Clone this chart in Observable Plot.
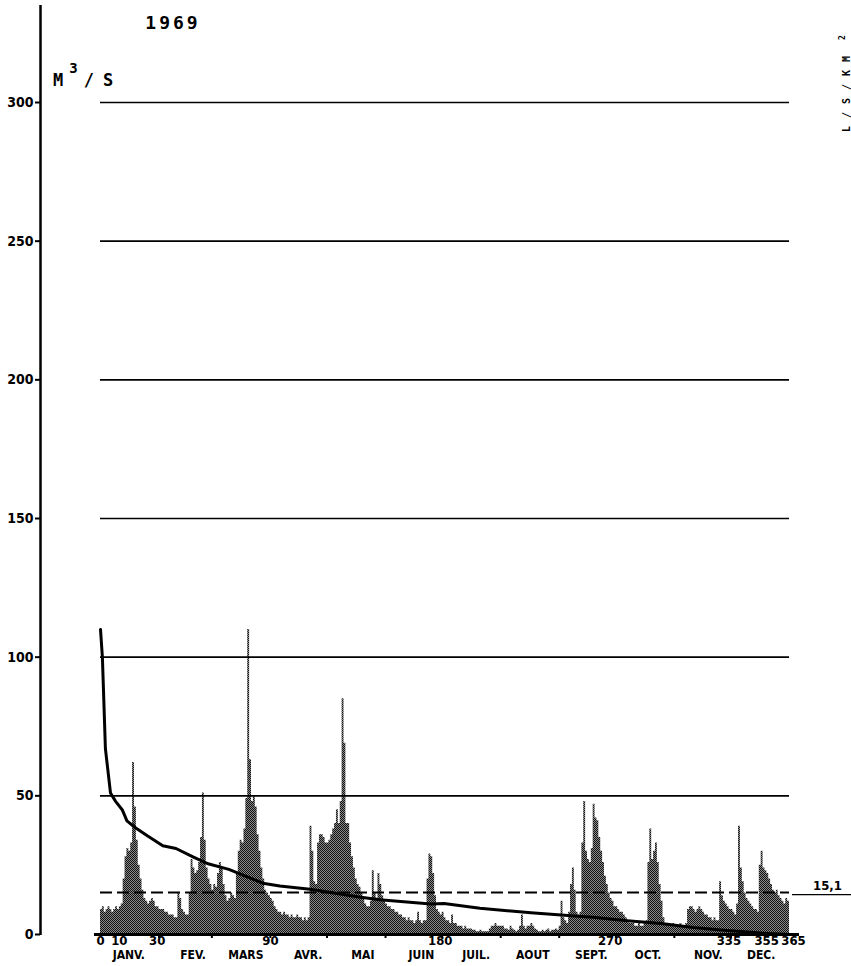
<!DOCTYPE html>
<html><head><meta charset="utf-8">
<script src="https://cdn.jsdelivr.net/npm/d3@7"></script>
<script src="https://cdn.jsdelivr.net/npm/@observablehq/plot@0.6"></script>
<style>body{margin:0;background:#fff} svg{display:block}</style>
</head><body><div id="chart"></div>
<script>
const year = "1969";
const jan = [9,10,8,9,10,9,8,9,10,9, 10,11,20,28,31,30,33,62,46,34, 25,20,16,13,12,11,12,13,12,10, 10];
const feb = [9,9,9,8,8,7,7,7,6,6, 15,13,9,8,7,7,15,27,24,22, 23,26,35,51,34,24,20,18];
const mar = [16,18,17,22,26,24,18,14,12,13, 15,14,13,22,30,34,33,38,49,110, 63,48,50,46,36,30,24,20,16,15, 14];
const apr = [13,12,10,9,8,8,7,8,7,7, 6,7,6,6,7,6,6,5,6,5, 6,39,30,19,18,33,36,36,35,33];
const may = [33,34,36,38,40,45,40,48,85,69, 40,40,33,28,24,20,18,17,15,13, 11,10,10,12,23,15,13,22,18,14, 12];
const jun = [11,10,10,9,9,8,8,7,7,6, 6,5,6,5,5,4,5,8,5,4, 5,5,20,29,28,22,14,9,8,7];
const jul = [8,6,5,5,4,7,4,4,3,3, 3,2,3,2,2,2,1.5,1.5,1,1, 1.5,1,1,1,1,2,3,3,4,3, 3];
const aug = [3,3,2,2,1.5,3,2,1.5,1,1.5, 3,7,3,2,3,3,4,3,2,1.5, 1,1,1.5,1,1.5,2,1,1.5,1.5,2, 1.5];
const sep = [3,12,6,5,4,8,18,24,16,8, 7,8,33,48,30,27,26,31,47,42, 41,35,30,26,21,18,15,13,12,10];
const oct = [10,9,8,8,7,6,5,4,4,4, 3,3,4,3,3,4,5,26,38,27, 30,33,26,18,12,6,4,4,3,3, 4];
const nov = [3,3,3,4,3,3,4,9,10,10, 9,8,9,10,9,8,7,7,6,6, 5,6,5,5,19,14,12,11,10,9];
const dec = [9,8,7,11,39,24,19,15,13,12, 11,10,9,9,8,25,30,24,23,22, 20,18,16,15,16,14,13,12,11,13, 12];

// flow-duration curve (days exceeded, m3/s)
const durationDays  = [0,1,2.6,5.3,8,11.5,14,18.5,25,33,40,49,57,68,86,95,111,127,136,148,175,182,201,228,253,261,279,297,314,332,350,365];
const durationFlows = [110,100,67,51,48,45,41,38.5,35.5,32,31,28,25.5,23.5,18.5,17.5,16.3,14.6,13.6,12.5,11,11.2,9.5,7.8,6.6,6.2,5,4,2.5,1.4,0.5,0];

const meanFlow = 15.1;
const gridFlows = [50,100,150,200,250,300];
const yTicks = [0,50,100,150,200,250,300];
const dayTicks = [0,10,30,90,180,270,335,355,365];
const monthNames = ["JANV.","FEV.","MARS","AVR.","MAI","JUIN","JUIL.","AOUT","SEPT.","OCT.","NOV.","DEC."];
const monthLabelDays = [15,49,77,110,139,170,199,229,260,290,322,350];
const monthStarts = [31,59,90,120,151,181,212,243,273,304,334];

// ---- build ----
const daily = [...jan,...feb,...mar,...apr,...may,...jun,...jul,...aug,...sep,...oct,...nov,...dec];
const flowSteps = daily.map((v,i) => ({day: i, flow: v})).concat([{day: daily.length, flow: daily[daily.length - 1]}]);
const duration = durationDays.map((d,i) => ({day: d, flow: durationFlows[i]}));
const months = monthNames.map((m,i) => ({name: m, day: monthLabelDays[i]}));

const narrow = "'Liberation Sans Narrow', 'DejaVu Sans Condensed', 'DejaVu Sans Mono', sans-serif";

const svg = Plot.plot({
  width: 851, height: 966,
  marginLeft: 100, marginRight: 62, marginTop: 102, marginBottom: 32,
  x: {domain: [0, 365]},
  y: {domain: [0, 300]},
  style: {fontFamily: "DejaVu Sans Mono", fontWeight: "bold", background: "white", color: "black"},
  marks: [
    Plot.areaY(flowSteps, {x: "day", y: "flow", curve: "step-after", fill: "url(#dither)"}),
    Plot.ruleY(gridFlows, {stroke: "black", strokeWidth: 1.6}),
    Plot.ruleY([meanFlow], {stroke: "black", strokeWidth: 2, strokeDasharray: "12,5"}),
    Plot.ruleY([meanFlow], {x1: 365, x2: 365, insetLeft: 3, insetRight: -62, stroke: "black", strokeWidth: 1.4, dy: 2}),
    Plot.text([meanFlow], {y: d => d, text: d => d3.format(".1f")(d).replace(".", ","), frameAnchor: "right", textAnchor: "middle", dx: 38, dy: -7, fontSize: 13, fontFamily: narrow}),
    Plot.line(duration, {x: "day", y: "flow", stroke: "black", strokeWidth: 3}),
    Plot.ruleY([0], {stroke: "black", strokeWidth: 3, insetLeft: -6, insetRight: -10}),
    Plot.ruleX([0], {dx: -60, stroke: "black", strokeWidth: 2.5, insetTop: -97, insetBottom: -1}),
    Plot.axisY(yTicks, {dx: -60, tickSize: 5, tickPadding: 2, tickFormat: d3.format("d"), fontSize: 14, fontFamily: narrow, strokeWidth: 2, label: null}),
    Plot.axisX(monthStarts, {tickSize: 4, tickFormat: () => "", strokeWidth: 2, label: null}),
    Plot.text(dayTicks, {filter: d => d < 335, x: d => d, text: d => String(d), frameAnchor: "bottom", textAnchor: "middle", dy: 10, fontSize: 13, fontFamily: narrow}),
    Plot.text(dayTicks, {filter: d => d >= 335 && d < 365, x: d => d, text: d => String(d), frameAnchor: "bottom", textAnchor: "middle", dx: -4, dy: 10, fontSize: 13, fontFamily: narrow}),
    Plot.text(dayTicks, {filter: d => d === 365, x: d => d, text: d => String(d), frameAnchor: "bottom", textAnchor: "middle", dx: 4, dy: 10, fontSize: 13, fontFamily: narrow}),
    Plot.text(months, {x: "day", text: "name", frameAnchor: "bottom", textAnchor: "middle", dy: 24, fontSize: 12, fontFamily: narrow})
  ]
});

const s = d3.select(svg);
const pat = s.insert("defs", ":first-child").append("pattern")
  .attr("id", "dither").attr("width", 2).attr("height", 2).attr("patternUnits", "userSpaceOnUse");
pat.append("rect").attr("width", 2).attr("height", 2).attr("fill", "#8a8a8a");
pat.append("rect").attr("width", 1).attr("height", 1).attr("fill", "#111");
pat.append("rect").attr("x", 1).attr("y", 1).attr("width", 1).attr("height", 1).attr("fill", "#111");

s.append("text").attr("x", 173).attr("y", 29).attr("text-anchor", "middle")
  .attr("font-size", 18).attr("letter-spacing", 3).text(year);
const u = s.append("text").attr("x", 53).attr("y", 86).attr("text-anchor", "start").attr("font-size", 17);
u.append("tspan").text("M");
u.append("tspan").attr("dx", 6).attr("dy", -13).attr("font-size", 14).text("3");
u.append("tspan").attr("dx", 6).attr("dy", 13).attr("letter-spacing", 9).text("/S");
const r = s.append("text").attr("transform", "translate(850,132) rotate(-90)").attr("text-anchor", "start")
  .attr("font-size", 10).attr("letter-spacing", 8);
r.append("tspan").text("L/S/KM");
r.append("tspan").attr("dx", 8).attr("dy", -5).attr("font-size", 8).text("2");

document.getElementById("chart").appendChild(svg);
</script>
</body></html>
